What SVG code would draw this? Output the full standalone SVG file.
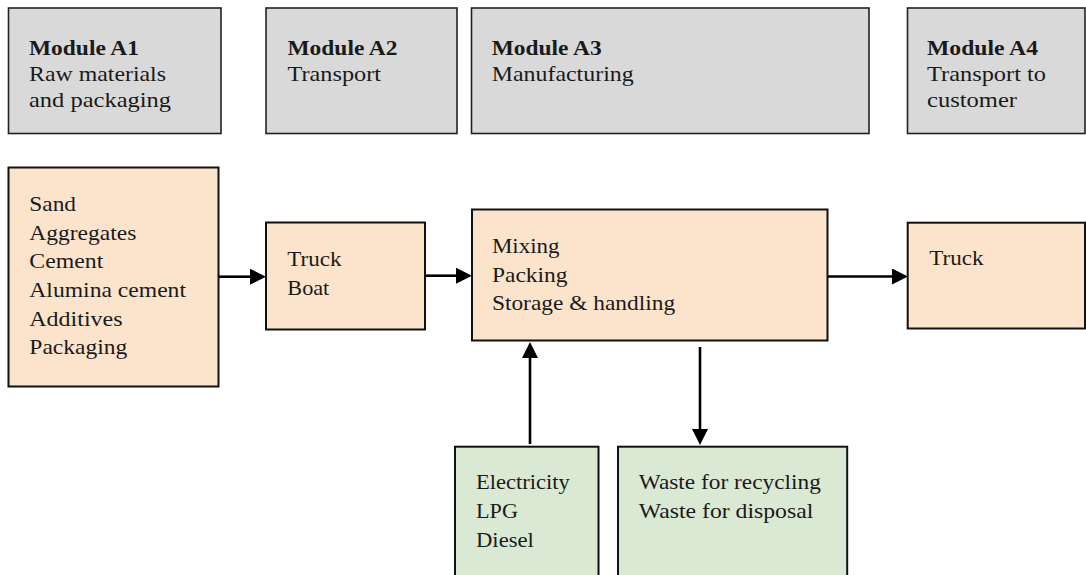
<svg xmlns="http://www.w3.org/2000/svg" width="1086" height="575" viewBox="0 0 1086 575">
<style>
  .mod { fill: #d9d9d9; stroke: #222; stroke-width: 1.6; }
  .org { fill: #fce4cc; stroke: #111; stroke-width: 2; }
  .grn { fill: #d9e9d3; stroke: #111; stroke-width: 2; }
  text { font-family: "Liberation Serif", "Times New Roman", serif; font-size: 22px; fill: #1a1a1a; }
  .b { font-weight: bold; }
  .conn { stroke: #000; stroke-width: 2.6; fill: none; }
</style>
<defs>
  <marker id="ah" markerUnits="userSpaceOnUse" markerWidth="16" markerHeight="16" refX="0" refY="8" orient="auto">
    <path d="M0,0 L16,8 L0,16 Z" fill="#000"/>
  </marker>
</defs>
<rect width="1086" height="575" fill="#fff"/>

<g id="moduleA1">
  <rect class="mod" x="8.5" y="8" width="212.5" height="125.5"/>
  <text class="b" x="29" y="55" textLength="110" lengthAdjust="spacingAndGlyphs">Module A1</text>
  <text x="29" y="81" textLength="137" lengthAdjust="spacingAndGlyphs">Raw materials</text>
  <text x="29" y="107" textLength="142" lengthAdjust="spacingAndGlyphs">and packaging</text>
</g>
<g id="moduleA2">
  <rect class="mod" x="266" y="8" width="191" height="125.5"/>
  <text class="b" x="287.5" y="55" textLength="110" lengthAdjust="spacingAndGlyphs">Module A2</text>
  <text x="287.5" y="81" textLength="93.5" lengthAdjust="spacingAndGlyphs">Transport</text>
</g>
<g id="moduleA3">
  <rect class="mod" x="471.5" y="8" width="397.5" height="125.5"/>
  <text class="b" x="491.7" y="55" textLength="110" lengthAdjust="spacingAndGlyphs">Module A3</text>
  <text x="491.7" y="81" textLength="142" lengthAdjust="spacingAndGlyphs">Manufacturing</text>
</g>
<g id="moduleA4">
  <rect class="mod" x="907.5" y="8" width="177.5" height="125.5"/>
  <text class="b" x="927" y="55" textLength="111" lengthAdjust="spacingAndGlyphs">Module A4</text>
  <text x="927" y="81" textLength="119" lengthAdjust="spacingAndGlyphs">Transport to</text>
  <text x="927" y="107" textLength="90" lengthAdjust="spacingAndGlyphs">customer</text>
</g>

<g id="rawMaterials">
  <rect class="org" x="8.5" y="167.5" width="210" height="219"/>
  <text x="29.3" y="211" textLength="46.7" lengthAdjust="spacingAndGlyphs">Sand</text>
  <text x="29.3" y="239.5" textLength="107" lengthAdjust="spacingAndGlyphs">Aggregates</text>
  <text x="29.3" y="268" textLength="74" lengthAdjust="spacingAndGlyphs">Cement</text>
  <text x="29.3" y="296.7" textLength="156.7" lengthAdjust="spacingAndGlyphs">Alumina cement</text>
  <text x="29.3" y="325.5" textLength="93.3" lengthAdjust="spacingAndGlyphs">Additives</text>
  <text x="29.3" y="354" textLength="98" lengthAdjust="spacingAndGlyphs">Packaging</text>
</g>
<g id="transport">
  <rect class="org" x="266" y="222.5" width="159" height="107"/>
  <text x="287.3" y="266" textLength="54.3" lengthAdjust="spacingAndGlyphs">Truck</text>
  <text x="287.3" y="295" textLength="42" lengthAdjust="spacingAndGlyphs">Boat</text>
</g>
<g id="manufacturing">
  <rect class="org" x="472" y="209.5" width="355.5" height="131"/>
  <text x="491.9" y="253.3" textLength="67.7" lengthAdjust="spacingAndGlyphs">Mixing</text>
  <text x="491.9" y="281.7" textLength="75.7" lengthAdjust="spacingAndGlyphs">Packing</text>
  <text x="491.9" y="310" textLength="183.3" lengthAdjust="spacingAndGlyphs">Storage &amp; handling</text>
</g>
<g id="transportCustomer">
  <rect class="org" x="907.7" y="222.7" width="177.3" height="105.8"/>
  <text x="929.3" y="265" textLength="54.3" lengthAdjust="spacingAndGlyphs">Truck</text>
</g>
<g id="energy">
  <rect class="grn" x="455" y="446.7" width="143.5" height="140"/>
  <text x="476" y="489.3" textLength="93.8" lengthAdjust="spacingAndGlyphs">Electricity</text>
  <text x="476" y="518.3" textLength="41.9" lengthAdjust="spacingAndGlyphs">LPG</text>
  <text x="476" y="546.7" textLength="57.9" lengthAdjust="spacingAndGlyphs">Diesel</text>
</g>
<g id="waste">
  <rect class="grn" x="618" y="446.7" width="229.2" height="140"/>
  <text x="638.8" y="489.3" textLength="182" lengthAdjust="spacingAndGlyphs">Waste for recycling</text>
  <text x="638.8" y="518.3" textLength="174.5" lengthAdjust="spacingAndGlyphs">Waste for disposal</text>
</g>

<g id="connectors">
  <line class="conn" x1="219" y1="276.7" x2="250" y2="276.7" marker-end="url(#ah)"/>
  <line class="conn" x1="425" y1="275.7" x2="456" y2="275.7" marker-end="url(#ah)"/>
  <line class="conn" x1="828" y1="276.5" x2="892" y2="276.5" marker-end="url(#ah)"/>
  <line class="conn" x1="530" y1="444" x2="530" y2="358" marker-end="url(#ah)"/>
  <line class="conn" x1="700" y1="347" x2="700" y2="429" marker-end="url(#ah)"/>
</g>
</svg>
